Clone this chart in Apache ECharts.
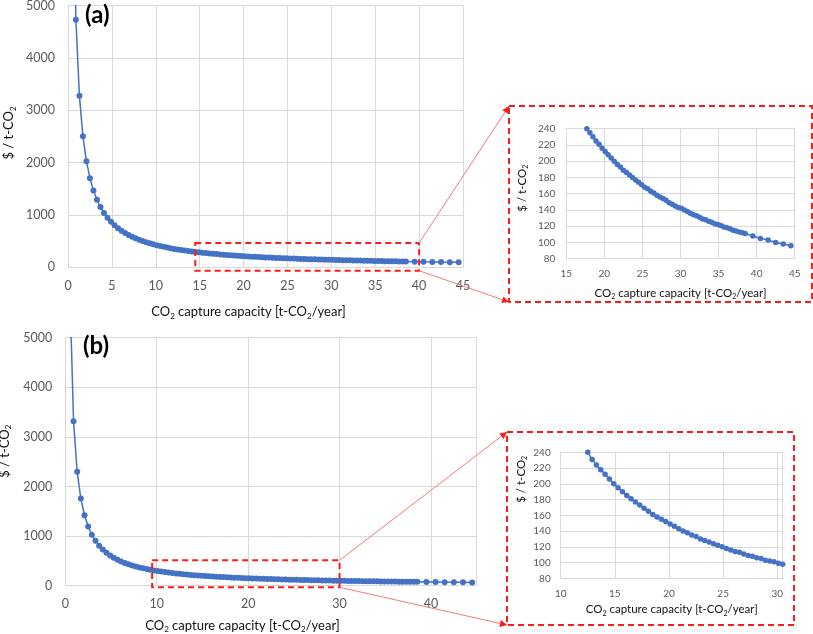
<!DOCTYPE html>
<html>
<head>
<meta charset="utf-8">
<script src="https://cdn.jsdelivr.net/npm/echarts@6/dist/echarts.min.js"></script>
<style>html,body{margin:0;padding:0;background:#fff}#c{width:813px;height:634px}</style>
</head>
<body>
<div id="c"></div>
<script>
// ---------------- DATA ----------------
const capacity = [
  0.5, 0.9, 1.3, 1.7, 2.1, 2.5, 2.9, 3.3, 3.7, 4.1,
  4.5, 4.9, 5.3, 5.7, 6.1, 6.5, 6.9, 7.3, 7.7, 8.1,
  8.5, 8.9, 9.3, 9.7, 10.1, 10.5, 10.9, 11.3, 11.7, 12.1,
  12.5, 12.9, 13.3, 13.7, 14.1, 14.5, 14.9, 15.3, 15.7, 16.1,
  16.5, 16.9, 17.3, 17.7, 18.1, 18.5, 18.9, 19.3, 19.7, 20.1,
  20.5, 20.9, 21.3, 21.7, 22.1, 22.5, 22.9, 23.3, 23.7, 24.1,
  24.5, 24.9, 25.3, 25.7, 26.1, 26.5, 26.9, 27.3, 27.7, 28.1,
  28.5, 28.9, 29.3, 29.7, 30.1, 30.5, 30.9, 31.3, 31.7, 32.1,
  32.5, 32.9, 33.3, 33.7, 34.1, 34.5, 34.9, 35.3, 35.7, 36.1,
  36.5, 36.9, 37.3, 37.7, 38.1, 38.5,
  39.5, 40.5, 41.5, 42.5, 43.5, 44.5
];
const costA = [
  8520, 4733, 3277, 2506, 2029, 1704, 1469, 1291, 1151, 1039,
  947, 869, 804, 747, 698, 655, 617, 584, 553, 526,
  501, 479, 458, 439, 422, 406, 391, 377, 364, 352,
  341, 330, 320, 311, 302, 294, 286, 278, 271, 265,
  258, 252, 246, 240, 235, 230, 225, 221, 216, 212,
  208, 204, 200, 196, 193, 189, 186, 183, 180, 177,
  174, 171, 168, 166, 163, 161, 158, 156, 154, 152,
  149, 147, 145, 143, 142, 140, 138, 136, 134, 133,
  131, 129, 128, 126, 125, 123, 122, 121, 119, 118,
  117, 115, 114, 113, 112, 111,
  108, 105, 103, 100, 98, 96
];
const costB = [
  5970, 3317, 2296, 1756, 1421, 1194, 1029, 905, 807, 728,
  663, 609, 563, 524, 489, 459, 433, 409, 388, 369,
  351, 335, 321, 308, 296, 284, 274, 264, 255, 247,
  240, 231, 224, 218, 212, 206, 200, 195, 190, 185,
  181, 177, 173, 169, 165, 161, 158, 155, 152, 149,
  146, 143, 140, 138, 135, 133, 130, 128, 126, 124,
  122, 120, 118, 116, 114, 113, 111, 109, 108, 106,
  105, 103, 102, 101, 99, 98, 97, 95, 94, 93,
  92, 91, 90, 89, 88, 87, 86, 85, 84, 83,
  82, 81, 80, 79, 78, 78,
  76, 74, 72, 70, 69, 67
];
const mainYTicks  = [0, 1000, 2000, 3000, 4000, 5000];
const mainAXTicks = [0, 5, 10, 15, 20, 25, 30, 35, 40, 45];
const mainBXTicks = [0, 10, 20, 30, 40];
const insetYTicks = [80, 100, 120, 140, 160, 180, 200, 220, 240];
const insetAXTicks = [15, 20, 25, 30, 35, 40, 45];
const insetBXTicks = [10, 15, 20, 25, 30];
const mainBXMax = 45;
const insetBXMax = 30.5;
const xTitle = '{n|CO}{s|2}{n| capture capacity [t-CO}{s|2}{n|/year]}';
const yTitle = '{n|$ / t-CO}{s|2}';
const panelLabels = ['(a)', '(b)'];

// ---------------- STYLE ----------------
const FONT = 'Lato, "Liberation Sans", sans-serif';
const BLUE = '#4472C4';
const GRIDC = '#d9d9d9';

function rich(fs) {
  const ss = Math.round(fs * 0.65);
  return {
    n: { fontSize: fs, fontFamily: FONT, color: '#111', lineHeight: fs + 3 },
    s: { fontSize: ss, fontFamily: FONT, color: '#111', lineHeight: ss + 1, verticalAlign: 'bottom' }
  };
}
const plain = v => String(v);
function xAxis(gi, ticks, max, fs, margin, nameFs, nameGap, padR, showMax) {
  return {
    type: 'value', gridIndex: gi, min: ticks[0], max: max, interval: ticks[1] - ticks[0],
    axisLine: { show: true, lineStyle: { color: GRIDC, width: 1 } },
    axisTick: { show: false },
    axisLabel: { color: '#595959', fontSize: fs, fontFamily: FONT, margin: margin, showMaxLabel: showMax, formatter: plain },
    splitLine: { show: true, lineStyle: { color: GRIDC, width: 1 } },
    name: xTitle, nameLocation: 'middle', nameGap: nameGap,
    nameTextStyle: { fontFamily: FONT, fontSize: nameFs, color: '#111', padding: [0, padR, 0, 0], rich: rich(nameFs) }
  };
}
function yAxis(gi, ticks, fs, margin, nameFs, nameGap, padL) {
  return {
    type: 'value', gridIndex: gi, min: ticks[0], max: ticks[ticks.length - 1], interval: ticks[1] - ticks[0],
    axisLine: { show: false }, axisTick: { show: false },
    axisLabel: { color: '#595959', fontSize: fs, fontFamily: FONT, margin: margin, formatter: plain },
    splitLine: { show: true, lineStyle: { color: GRIDC, width: 1 } },
    name: yTitle, nameLocation: 'middle', nameGap: nameGap,
    nameTextStyle: { fontFamily: FONT, fontSize: nameFs, color: '#111', padding: [0, 0, 0, padL], rich: rich(nameFs) }
  };
}
function series(gi, ys, size) {
  return {
    type: 'line', xAxisIndex: gi, yAxisIndex: gi,
    data: capacity.map((x, i) => [x, ys[i]]),
    symbol: 'circle', symbolSize: size, showSymbol: true, clip: true,
    lineStyle: { color: BLUE, width: 1.5 }, itemStyle: { color: BLUE },
    animation: false, silent: true
  };
}

const option = {
  backgroundColor: '#fff',
  animation: false,
  grid: [
    { left: 68, top: 5.7, width: 395, height: 261.6, containLabel: false, outerBoundsMode: 'none' },
    { left: 566.3, top: 128.7, width: 228.4, height: 130, containLabel: false, outerBoundsMode: 'none' },
    { left: 65.3, top: 337.7, width: 411.4, height: 248, containLabel: false, outerBoundsMode: 'none' },
    { left: 560.7, top: 452.3, width: 222, height: 126, containLabel: false, outerBoundsMode: 'none' }
  ],
  xAxis: [
    xAxis(0, mainAXTicks, mainAXTicks[mainAXTicks.length - 1], 12.5, 12, 13, 37, 34, true),
    xAxis(1, insetAXTicks, insetAXTicks[insetAXTicks.length - 1], 10, 10, 11.5, 27, 0, true),
    xAxis(2, mainBXTicks, mainBXMax, 12.5, 12, 13, 32, 57, false),
    xAxis(3, insetBXTicks, insetBXMax, 10, 10, 11.5, 24, 0, false)
  ],
  yAxis: [
    yAxis(0, mainYTicks, 12.5, 13, 13, 51, 7),
    yAxis(1, insetYTicks, 10, 11, 11.5, 37, 11),
    yAxis(2, mainYTicks, 12.5, 13, 13, 48, 21),
    yAxis(3, insetYTicks, 10, 10, 11.5, 32, 72)
  ],
  series: [
    series(0, costA, 6),
    series(1, costA, 5.5),
    series(2, costB, 6),
    series(3, costB, 5.5)
  ]
};

const chart = echarts.init(document.getElementById('c'), null, { renderer: 'canvas' });
chart.setOption(option);

// ---------------- ANNOTATIONS (zoom boxes, callouts) ----------------
const callouts = [
  { grid: 0, xr: [14.5, 40], yr: [-65, 464], frame: [509, 106, 812, 302] },
  { grid: 2, xr: [9.5, 30], yr: [-32, 512], frame: [507, 432, 794, 625] }
];
const RED = '#ff1a1a';
const LINK = '#f47a7a';
const graphics = [];
function arrow(from, to) {
  const dx = to[0] - from[0], dy = to[1] - from[1];
  const L = Math.hypot(dx, dy), ux = dx / L, uy = dy / L;
  const bx = to[0] - ux * 7, by = to[1] - uy * 7;
  return { type: 'polygon', z: 110, shape: { points: [to, [bx - uy * 3.5, by + ux * 3.5], [bx + uy * 3.5, by - ux * 3.5]] }, style: { fill: RED } };
}
callouts.forEach(c => {
  const tl = chart.convertToPixel({ gridIndex: c.grid }, [c.xr[0], c.yr[1]]);
  const br = chart.convertToPixel({ gridIndex: c.grid }, [c.xr[1], c.yr[0]]);
  graphics.push({ type: 'rect', z: 100, shape: { x: tl[0], y: tl[1], width: br[0] - tl[0], height: br[1] - tl[1] },
    style: { fill: 'none', stroke: RED, lineWidth: 2, lineDash: [6, 4] } });
  const f = c.frame;
  graphics.push({ type: 'rect', z: 100, shape: { x: f[0], y: f[1], width: f[2] - f[0], height: f[3] - f[1] },
    style: { fill: 'none', stroke: RED, lineWidth: 2, lineDash: [6, 4] } });
  const a0 = [br[0], tl[1]], a1 = [f[0], f[1]];
  const b0 = [br[0], br[1]], b1 = [f[0], f[3]];
  graphics.push({ type: 'line', z: 100, shape: { x1: a0[0], y1: a0[1], x2: a1[0], y2: a1[1] }, style: { stroke: LINK, lineWidth: 1 } });
  graphics.push({ type: 'line', z: 100, shape: { x1: b0[0], y1: b0[1], x2: b1[0], y2: b1[1] }, style: { stroke: LINK, lineWidth: 1 } });
  graphics.push(arrow(a0, a1));
  graphics.push(arrow(b0, b1));
});
graphics.push({ type: 'text', z: 120, x: 85, y: 15.5, style: { text: panelLabels[0], font: 'bold 24px Lato, "Liberation Sans", sans-serif', fill: '#000', align: 'left', verticalAlign: 'middle' } });
graphics.push({ type: 'text', z: 120, x: 83, y: 346, style: { text: panelLabels[1], font: 'bold 24px Lato, "Liberation Sans", sans-serif', fill: '#000', align: 'left', verticalAlign: 'middle' } });
chart.setOption({ graphic: graphics });
</script>
</body>
</html>
